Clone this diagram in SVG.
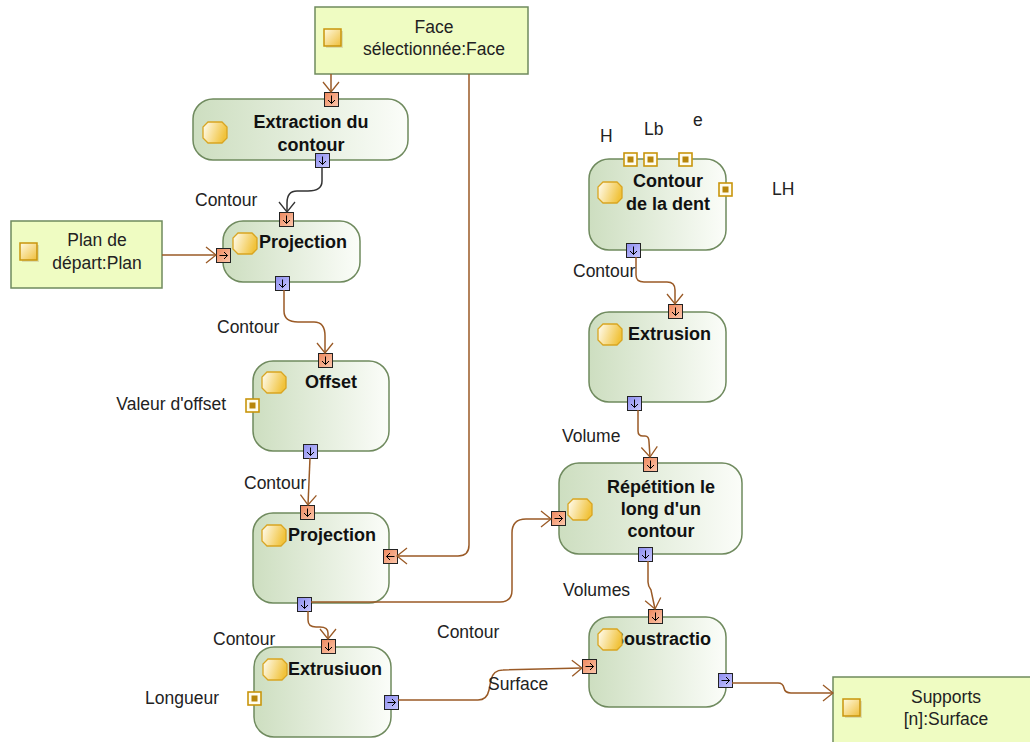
<svg xmlns="http://www.w3.org/2000/svg" xmlns:xlink="http://www.w3.org/1999/xlink" width="1030" height="742" viewBox="0 0 1030 742">
<style>
.node{fill:url(#gNode);stroke:#6f8a5e;stroke-width:1.5}
.obj{fill:#effcc2;stroke:#6f8a5e;stroke-width:1.5}
.b{font-family:"Liberation Sans",Arial,sans-serif;font-weight:bold;font-size:18px;fill:#111}
.t{font-family:"Liberation Sans",Arial,sans-serif;font-size:17.5px;fill:#222}
.m{text-anchor:middle}
.e{text-anchor:end}
.c{fill:none;stroke:#9a5a26;stroke-width:1.5}
.k{fill:none;stroke:#333;stroke-width:1.5}
</style>
<defs>
<linearGradient id="gNode" x1="0" y1="0" x2="1" y2="0"><stop offset="0" stop-color="#cddec0"/><stop offset="1" stop-color="#fbfdf9"/></linearGradient>
<linearGradient id="gIcon" x1="0" y1="0" x2="1" y2="0.3"><stop offset="0" stop-color="#fffef6"/><stop offset="1" stop-color="#f1c33c"/></linearGradient>
<linearGradient id="gIn" x1="0" y1="0" x2="1" y2="1"><stop offset="0" stop-color="#ee875c"/><stop offset="1" stop-color="#fcc8ad"/></linearGradient>
<linearGradient id="gOut" x1="0" y1="0" x2="1" y2="1"><stop offset="0" stop-color="#8c8cee"/><stop offset="1" stop-color="#c8c8ff"/></linearGradient>
<linearGradient id="gObjIcon" x1="0" y1="0" x2="1" y2="1"><stop offset="0" stop-color="#fffbe2"/><stop offset="1" stop-color="#efbe3a"/></linearGradient>
<marker id="arr" markerUnits="userSpaceOnUse" viewBox="0 -9 12 18" markerWidth="12" markerHeight="18" refX="11" refY="0" orient="auto">
<path d="M1,-8 L11,0 L1,8" fill="none" stroke="#9a5a26" stroke-width="1.3"/>
</marker>
<marker id="arrk" markerUnits="userSpaceOnUse" viewBox="0 -9 12 18" markerWidth="12" markerHeight="18" refX="11" refY="0" orient="auto">
<path d="M1,-8 L11,0 L1,8" fill="none" stroke="#333" stroke-width="1.3"/>
</marker>
<g id="pinInDown"><rect x="0.5" y="0.5" width="14" height="14" fill="url(#gIn)" stroke="#222"/><path d="M7.5,3.5V11.5M4,8L7.5,11.5L11,8" stroke="#000" fill="none"/></g>
<g id="pinInRight"><rect x="0.5" y="0.5" width="14" height="14" fill="url(#gIn)" stroke="#222"/><path d="M3.5,7.5H11.5M8,4L11.5,7.5L8,11" stroke="#000" fill="none"/></g>
<g id="pinInLeft"><rect x="0.5" y="0.5" width="14" height="14" fill="url(#gIn)" stroke="#222"/><path d="M11.5,7.5H3.5M7,4L3.5,7.5L7,11" stroke="#000" fill="none"/></g>
<g id="pinOutDown"><rect x="0.5" y="0.5" width="14" height="14" fill="url(#gOut)" stroke="#222"/><path d="M7.5,3.5V11.5M4,8L7.5,11.5L11,8" stroke="#000" fill="none"/></g>
<g id="pinOutRight"><rect x="0.5" y="0.5" width="14" height="14" fill="url(#gOut)" stroke="#222"/><path d="M3.5,7.5H11.5M8,4L11.5,7.5L8,11" stroke="#000" fill="none"/></g>
<g id="pinVal"><rect x="1" y="1" width="13" height="13" fill="#fffdf0" stroke="#c9950c" stroke-width="1.6"/><rect x="4.5" y="4.5" width="6" height="6" fill="#b8860b"/></g>
<g id="oct"><polygon points="5,0 19,0 24,5 24,16 19,21 5,21 0,16 0,5" fill="url(#gIcon)" stroke="#d9a521" stroke-width="1.3"/></g>
<g id="objIcon"><rect x="2" y="2" width="17" height="17" fill="#c8c090" opacity="0.5"/><rect x="0" y="0" width="17" height="17" fill="url(#gObjIcon)" stroke="#c9950c" stroke-width="1.5"/></g>
</defs>
<rect width="1030" height="742" fill="#ffffff"/>

<g id="face">
<rect class="obj" x="315" y="7" width="213" height="67"/>
<use href="#objIcon" x="324" y="29"/>
<text class="t m" x="434" y="33">Face</text>
<text class="t m" x="434" y="55">sélectionnée:Face</text>
</g>

<g id="plan">
<rect class="obj" x="11" y="221" width="151" height="67"/>
<use href="#objIcon" x="20" y="243"/>
<text class="t m" x="97" y="246">Plan de</text>
<text class="t m" x="97" y="269">départ:Plan</text>
</g>

<g id="supports">
<rect class="obj" x="833" y="677" width="210" height="80"/>
<use href="#objIcon" x="843" y="699"/>
<text class="t m" x="946" y="703">Supports</text>
<text class="t m" x="946" y="725">[n]:Surface</text>
</g>

<g id="extraction">
<rect class="node" x="193" y="99" width="215" height="61" rx="20"/>
<use href="#oct" x="203" y="122"/>
<text class="b m" x="311" y="128">Extraction du</text>
<text class="b m" x="311" y="151">contour</text>
<use href="#pinInDown" x="324" y="92"/>
<use href="#pinOutDown" x="315" y="153"/>
</g>

<g id="projection1">
<rect class="node" x="223" y="221" width="137" height="61" rx="20"/>
<use href="#oct" x="233" y="233"/>
<text class="b" x="259" y="248">Projection</text>
<use href="#pinInDown" x="279" y="212"/>
<use href="#pinInRight" x="216" y="248"/>
<use href="#pinOutDown" x="275" y="276"/>
</g>

<g id="offset">
<rect class="node" x="253" y="361" width="136" height="90" rx="20"/>
<use href="#oct" x="262" y="372"/>
<text class="b m" x="331" y="388">Offset</text>
<use href="#pinInDown" x="318" y="353"/>
<use href="#pinVal" x="245" y="398"/>
<use href="#pinOutDown" x="303" y="444"/>
<text class="t e" x="226" y="410">Valeur d'offset</text>
</g>

<g id="projection2">
<rect class="node" x="253" y="513" width="136" height="90" rx="20"/>
<use href="#oct" x="262" y="525"/>
<text class="b" x="288" y="541">Projection</text>
<use href="#pinInDown" x="300" y="505"/>
<use href="#pinInLeft" x="383" y="549"/>
<use href="#pinOutDown" x="297" y="597"/>
</g>

<g id="extrusiuon">
<rect class="node" x="254" y="647" width="137" height="90" rx="20"/>
<use href="#oct" x="263" y="659"/>
<text class="b" x="288" y="675">Extrusiuon</text>
<use href="#pinInDown" x="321" y="639"/>
<use href="#pinVal" x="247" y="691"/>
<use href="#pinOutRight" x="384" y="695"/>
<text class="t" x="145" y="704">Longueur</text>
</g>

<g id="contourDent">
<rect class="node" x="589" y="159" width="137" height="91" rx="20"/>
<use href="#oct" x="598" y="182"/>
<text class="b m" x="668" y="187">Contour</text>
<text class="b m" x="668" y="210">de la dent</text>
<use href="#pinVal" x="623" y="152"/>
<use href="#pinVal" x="643" y="152"/>
<use href="#pinVal" x="678" y="152"/>
<use href="#pinVal" x="718" y="182"/>
<use href="#pinOutDown" x="626" y="243"/>
<text class="t" x="600" y="142">H</text>
<text class="t" x="644" y="135">Lb</text>
<text class="t" x="693" y="126">e</text>
<text class="t" x="772" y="195">LH</text>
</g>

<g id="extrusion">
<rect class="node" x="589" y="312" width="137" height="90" rx="20"/>
<use href="#oct" x="598" y="324"/>
<text class="b" x="628" y="340">Extrusion</text>
<use href="#pinInDown" x="668" y="304"/>
<use href="#pinOutDown" x="627" y="396"/>
</g>

<g id="repetition">
<rect class="node" x="559" y="463" width="183" height="91" rx="20"/>
<use href="#oct" x="568" y="499"/>
<text class="b m" x="661" y="493">Répétition le</text>
<text class="b m" x="661" y="515">long d'un</text>
<text class="b m" x="661" y="537">contour</text>
<use href="#pinInDown" x="643" y="457"/>
<use href="#pinInRight" x="551" y="511"/>
<use href="#pinOutDown" x="638" y="547"/>
</g>

<g id="soustraction">
<rect class="node" x="589" y="617" width="137" height="90" rx="20"/>
<text class="b" x="612" y="645">Soustractio</text>
<use href="#oct" x="598" y="629"/>
<use href="#pinInDown" x="648" y="609"/>
<use href="#pinInRight" x="582" y="659"/>
<use href="#pinOutRight" x="718" y="673"/>
</g>

<g id="connectors">
<path class="c" marker-end="url(#arr)" d="M331,74 L331,92"/>
<path class="k" marker-end="url(#arrk)" d="M322,167 L322,181 C322,189 316,191 308,191 L297,191 C290,191 287,195 287,203 L287,212"/>
<path class="c" marker-end="url(#arr)" d="M162,255 L216,255"/>
<path class="c" marker-end="url(#arr)" d="M284,290 L284,311 C284,319 289,322 298,322 L314,322 C322,322 325,327 325,336 L325,353"/>
<path class="c" marker-end="url(#arr)" d="M310,458 L308,505"/>
<path class="c" marker-end="url(#arr)" d="M469,74 L469,545 Q469,556 458,556 L397,556"/>
<path class="c" marker-end="url(#arr)" d="M311,602 L500,602 Q512,602 512,590 L512,533 Q512,519 526,519 L551,519"/>
<path class="c" marker-end="url(#arr)" d="M308,611 L308,620 Q308,627 316,627 L320,627 Q328,627 328,633 L328,639"/>
<path class="c" marker-end="url(#arr)" d="M398,700 L478,700 Q487,700 489,690 L491,680 Q493,670 503,670 L582,668"/>
<path class="c" marker-end="url(#arr)" d="M636,257 L636,275 Q636,282 644,282 L667,282 Q675,282 675,290 L675,304"/>
<path class="c" marker-end="url(#arr)" d="M638,410 L638,431 Q638,436 643,436 L645,436 Q649,436 649,442 L650,457"/>
<path class="c" marker-end="url(#arr)" d="M648,561 L648,582 Q648,586 651,590 L655,609"/>
<path class="c" marker-end="url(#arr)" d="M732,683 L778,683 Q783,683 784,688 Q785,693 791,693 L833,693"/>
</g>

<g id="labels">
<text class="t" x="195" y="206">Contour</text>
<text class="t" x="217" y="333">Contour</text>
<text class="t" x="244" y="489">Contour</text>
<text class="t" x="213" y="645">Contour</text>
<text class="t" x="437" y="638">Contour</text>
<text class="t" x="488" y="690">Surface</text>
<text class="t" x="573" y="277">Contour</text>
<text class="t" x="562" y="442">Volume</text>
<text class="t" x="563" y="596">Volumes</text>
</g>
</svg>
